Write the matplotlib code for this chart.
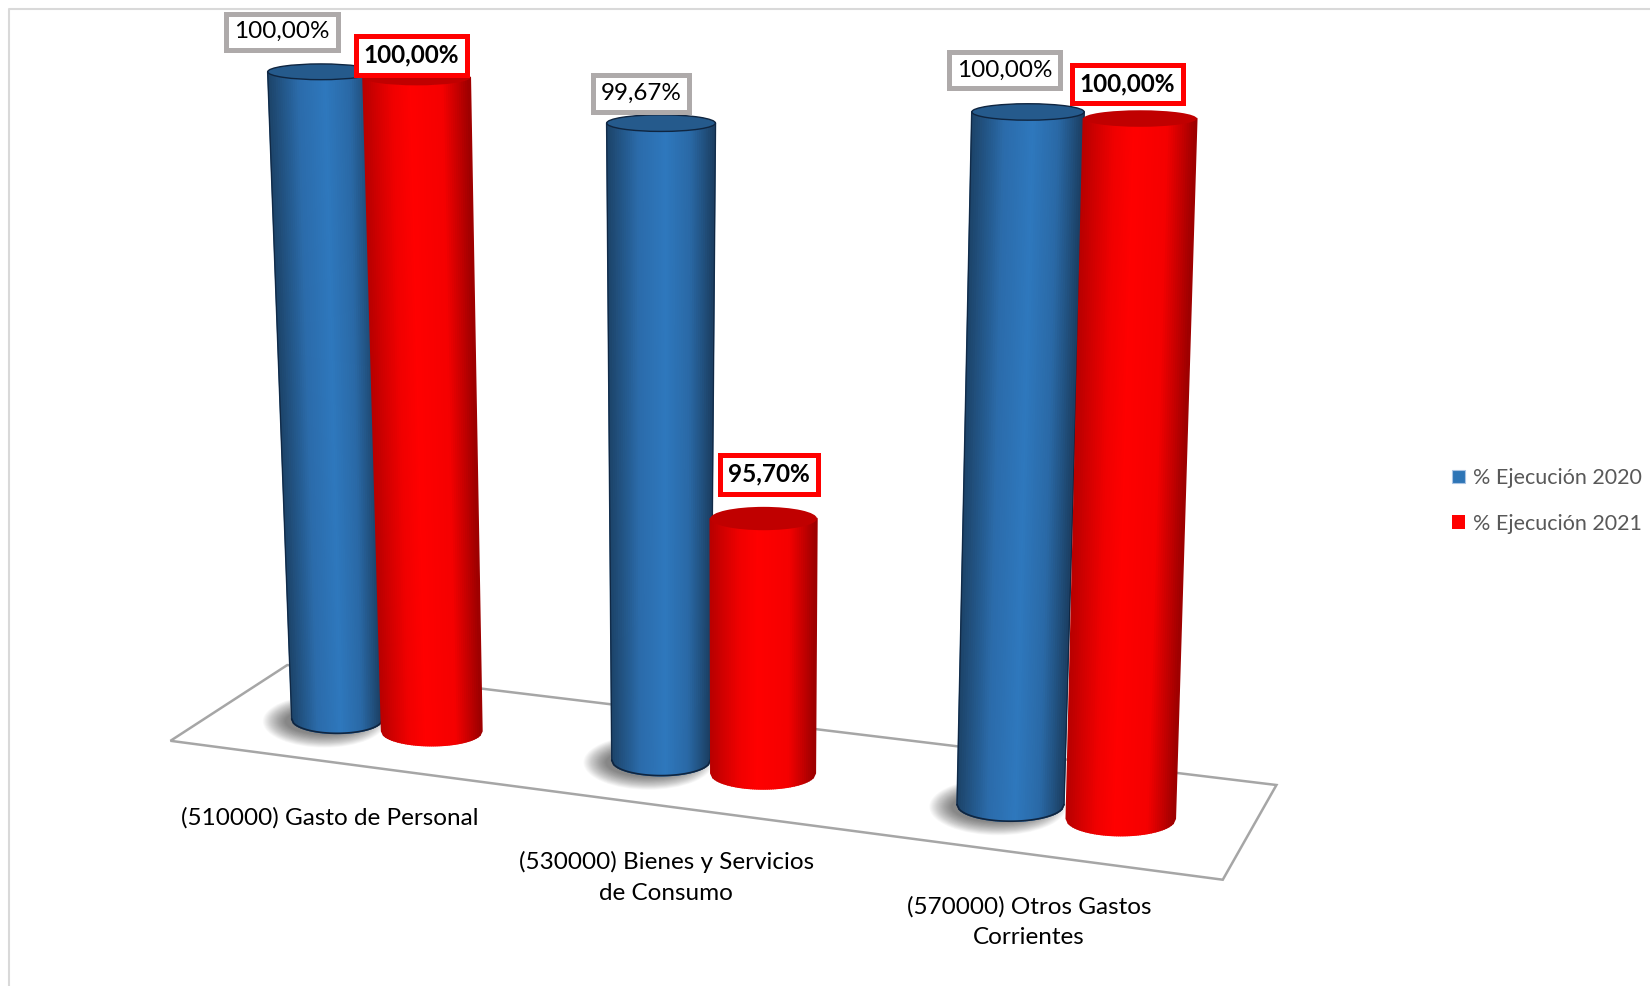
import numpy as np
import matplotlib
matplotlib.use('Agg')
import matplotlib.pyplot as plt
from matplotlib.collections import PolyCollection
from matplotlib.colors import LinearSegmentedColormap
from matplotlib.patches import Ellipse, Patch, Polygon

# Data
categories = ['(510000) Gasto de Personal',
              '(530000) Bienes y Servicios\nde Consumo',
              '(570000) Otros Gastos\nCorrientes']
series_names = ['% Ejecución 2020', '% Ejecución 2021']
ejecucion_2020 = [100.00, 99.67, 100.00]
ejecucion_2021 = [100.00, 95.70, 100.00]
value_min = 93.1
value_max = 100

plt.rcParams['font.family'] = ['Lato', 'DejaVu Sans']

# Layout, all in the pixel space of the axes
W, H = 1568, 937
floor = {'fl': (162, 704), 'fr': (1162, 836), 'br': (1213, 746), 'bl': (273, 632)}
depth = 0.455
bar_shift = 0.05
u_nudge = 0.004
label_offsets = [[(-37, -38), (-19, -28), (-22, -40)],
                 [(-5, -21), (5, -42), (-12, -33)]]
category_label_xy = [(313, 777), (633, 834), (978, 876)]

blue_map = LinearSegmentedColormap.from_list('b', [(0, '#1c4267'), (0.3, '#2b6cab'), (0.55, '#2e78bd'), (0.78, '#2a69a6'), (1, '#1b3f63')])
red_map = LinearSegmentedColormap.from_list('r', [(0, '#b80000'), (0.28, '#f00000'), (0.45, '#ff0000'), (0.75, '#f50000'), (1, '#9c0000')])
styles = [
    {'map': blue_map, 'cap': '#255a8c', 'edge': '#0f2540', 'rim': '#0f2540', 'box': '#aeaaaa', 'weight': 'normal', 'lw': 3.6, 'rx0': 43, 'slope': 0.095, 'lean': 0},
    {'map': red_map, 'cap': '#c00000', 'edge': None, 'rim': '#ee0000', 'box': '#ff0000', 'weight': 'bold', 'lw': 3.6, 'rx0': 47, 'slope': 0.05, 'lean': 3.5},
]


def floor_point(u, v):
    # unit square of the floor to pixels
    x0, y0 = floor['fl']
    x1, y1 = floor['fr']
    x2, y2 = floor['br']
    x3, y3 = floor['bl']
    dx1, dx2, sx = x1 - x2, x3 - x2, x0 - x1 + x2 - x3
    dy1, dy2, sy = y1 - y2, y3 - y2, y0 - y1 + y2 - y3
    den = dx1 * dy2 - dx2 * dy1
    g = (sx * dy2 - dx2 * sy) / den
    h = (dx1 * sy - sx * dy1) / den
    w = g * u + h * v + 1
    x = ((x1 - x0 + g * x1) * u + (x3 - x0 + h * x3) * v + x0) / w
    y = ((y1 - y0 + g * y1) * u + (y3 - y0 + h * y3) * v + y0) / w
    return x, y


def radius_x(y_base, t, style):
    rx_bottom = style['rx0'] + (y_base - 683) * style['slope']
    rx_top = 50.5 + (y_base - 683) * 0.035
    return rx_bottom + t * (rx_top - rx_bottom)


def radius_y(y):
    return 7.5 + (y - 70) * 0.0085 + max(y - 650, 0) * 0.02


def draw_shadow(ax, x, y, rx, ry):
    for k in range(24):
        grow = 1 - k / 24
        ax.add_patch(Ellipse((x - 12, y + 2), 2 * (rx * 0.85 + 22 * grow), 2 * (ry * 0.9 + 13 * grow),
                             fc='black', ec='none', alpha=0.025, zorder=2))


def draw_cylinder(ax, cat, ser, value, style):
    u = (cat + 0.5) / 3 + (ser - 0.5) * 2 * bar_shift + u_nudge
    bx, by = floor_point(u, depth)
    t = (value - value_min) / (value_max - value_min)
    height = 615 + 0.53 * (by - 683)
    tx = bx + (0.05 * (bx - 628) - style['lean']) * t
    ty = by - height * t
    rxb, rxt = radius_x(by, 0, style), radius_x(by, t, style)
    ryb, ryt = radius_y(by), radius_y(ty)

    z = 3 + cat * 2 + ser
    n = 50
    f = np.linspace(-1, 1, n + 1)
    xb = bx + rxb * f
    yb = by + ryb * np.sqrt(1 - f ** 2)
    xt = tx + rxt * f
    yt = ty + ryt * np.sqrt(1 - f ** 2)
    quads = [[(xb[i], yb[i]), (xb[i + 1], yb[i + 1]), (xt[i + 1], yt[i + 1]), (xt[i], yt[i])] for i in range(n)]
    colors = style['map']((np.arange(n) + 0.5) / n)
    ax.add_collection(PolyCollection(quads, facecolors=colors, edgecolors=colors, linewidths=1.2, zorder=z))
    ax.add_patch(Ellipse((tx, ty), 2 * rxt, 2 * ryt, fc=style['cap'], ec=style['edge'] or 'none', lw=1.0, zorder=z))
    if style['edge']:
        ax.plot(xb, yb, color=style['rim'], lw=1.2, zorder=z)
        ax.plot([xb[0], xt[0]], [yb[0], yt[0]], color=style['edge'], lw=0.7, zorder=z)
        ax.plot([xb[-1], xt[-1]], [yb[-1], yt[-1]], color=style['edge'], lw=0.7, zorder=z)
    return tx, ty


fig = plt.figure(figsize=(16.5, 9.86), dpi=100)
ax = fig.add_axes([0, 0, 1, 1])
ax.set_xlim(0, W)
ax.set_ylim(H, 0)
ax.axis('off')

# chart border
ax.plot([9, 9, W], [H, 9, 9], color='#d9d9d9', lw=1.5, zorder=0)

# floor
ax.add_patch(Polygon([floor['fl'], floor['fr'], floor['br'], floor['bl']], closed=True, fc='white', ec='#a6a6a6', lw=1.8, zorder=1))

# shadows first, then the bars of each category left to right
for cat in range(len(categories)):
    u = (cat + 0.5) / 3 - bar_shift + u_nudge
    bx, by = floor_point(u, depth)
    draw_shadow(ax, bx, by, radius_x(by, 0, styles[0]), radius_y(by))

for ser, values in enumerate([ejecucion_2020, ejecucion_2021]):
    for cat, value in enumerate(values):
        tx, ty = draw_cylinder(ax, cat, ser, value, styles[ser])
        dx, dy = label_offsets[ser][cat]
        ax.text(tx + dx, ty + dy, f'{value:.2f}%'.replace('.', ','), ha='center', va='center',
                fontsize=17.5, color='black', fontweight=styles[ser]['weight'], zorder=20,
                bbox=dict(boxstyle='square,pad=0.32', fc='white', ec=styles[ser]['box'], lw=styles[ser]['lw']))

for label, (x, y) in zip(categories, category_label_xy):
    ax.text(x, y, label, ha='center', va='center', fontsize=17.5, color='black', linespacing=1.55, zorder=20)

handles = [Patch(fc='#2e75b6', ec='#a9c4e4', lw=0.8), Patch(fc='#ff0000', ec='none')]
ax.legend(handles, series_names, loc='center left', bbox_to_anchor=(1380 / W, 1 - 476 / H), frameon=False,
          fontsize=15.5, labelcolor='#595959', handlelength=0.6, handleheight=0.6, handletextpad=0.35,
          labelspacing=1.2, borderpad=0, borderaxespad=0)

fig.savefig('out.png', dpi=100)
